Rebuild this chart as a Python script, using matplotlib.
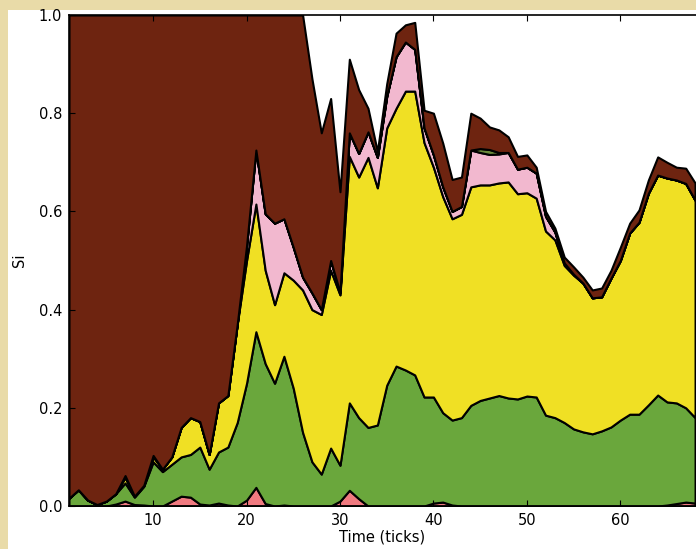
import matplotlib
matplotlib.use("Agg")
import matplotlib.pyplot as plt
from matplotlib.patches import Rectangle

# time ticks 1..68
ticks = list(range(1, 69))

# layer thickness per tick, bottom to top
salmon = [0, 0, 0, 0, 0, 0.004, 0.01, 0.003, 0.002, 0,
          0, 0.01, 0.02, 0.018, 0.004, 0.002, 0.006, 0.002, 0, 0.012,
          0.038, 0.005, 0, 0.002, 0, 0, 0, 0, 0, 0.01,
          0.032, 0.015, 0, 0, 0, 0, 0, 0, 0, 0.006,
          0.008, 0.002, 0, 0, 0, 0, 0, 0, 0, 0,
          0, 0, 0, 0, 0, 0, 0, 0, 0, 0,
          0, 0, 0, 0, 0.002, 0.005, 0.008, 0.006]
green = [0.016, 0.033, 0.012, 0.003, 0.01, 0.021, 0.037, 0.015, 0.038, 0.09,
         0.07, 0.075, 0.08, 0.087, 0.116, 0.073, 0.104, 0.118, 0.17, 0.238,
         0.317, 0.285, 0.25, 0.303, 0.24, 0.15, 0.09, 0.065, 0.118, 0.073,
         0.178, 0.165, 0.16, 0.165, 0.246, 0.285, 0.277, 0.267, 0.222, 0.216,
         0.182, 0.173, 0.18, 0.205, 0.215, 0.22, 0.225, 0.22, 0.218, 0.224,
         0.222, 0.185, 0.18, 0.17, 0.157, 0.151, 0.147, 0.153, 0.161, 0.175,
         0.187, 0.187, 0.206, 0.226, 0.21, 0.205, 0.192, 0.174]
yellow = [0, 0, 0, 0, 0, 0, 0.011, 0.002, 0.002, 0.01,
          0.005, 0.015, 0.06, 0.075, 0.052, 0.03, 0.10, 0.105, 0.20, 0.25,
          0.26, 0.19, 0.16, 0.17, 0.22, 0.29, 0.31, 0.325, 0.362, 0.347,
          0.502, 0.49, 0.55, 0.483, 0.524, 0.525, 0.568, 0.578, 0.518, 0.468,
          0.44, 0.41, 0.414, 0.445, 0.439, 0.434, 0.433, 0.44, 0.418, 0.414,
          0.405, 0.375, 0.362, 0.32, 0.313, 0.303, 0.277, 0.273, 0.303, 0.325,
          0.369, 0.391, 0.431, 0.448, 0.456, 0.454, 0.457, 0.443]
pink = [0, 0, 0, 0, 0, 0, 0.004, 0, 0, 0.003,
        0, 0, 0, 0, 0, 0, 0, 0, 0, 0.03,
        0.11, 0.115, 0.166, 0.11, 0.067, 0.026, 0.034, 0.01, 0.02, 0.005,
        0.048, 0.048, 0.052, 0.062, 0.064, 0.105, 0.10, 0.085, 0.03, 0.025,
        0.02, 0.015, 0.016, 0.075, 0.066, 0.062, 0.059, 0.06, 0.05, 0.052,
        0.051, 0.03, 0.016, 0.005, 0.002, 0, 0, 0, 0, 0,
        0, 0, 0, 0, 0, 0, 0, 0]
olive = [0] * 44 + [0.008, 0.01, 0.003] + [0] * 21
brown = [0.984, 0.967, 0.988, 0.997, 0.99, 0.975, 0.938, 0.98, 0.958, 0.897,
         0.925, 0.90, 0.84, 0.82, 0.828, 0.895, 0.79, 0.775, 0.63, 0.47,
         0.275, 0.405, 0.424, 0.415, 0.473, 0.534, 0.436, 0.36, 0.33, 0.205,
         0.15, 0.13, 0.048, 0.012, 0.026, 0.048, 0.035, 0.055, 0.036, 0.085,
         0.089, 0.065, 0.06, 0.075, 0.062, 0.046, 0.046, 0.032, 0.026, 0.025,
         0.012, 0.01, 0.008, 0.012, 0.015, 0.012, 0.016, 0.018, 0.016, 0.027,
         0.02, 0.025, 0.027, 0.037, 0.032, 0.026, 0.031, 0.035]

colors = ['#f07a80', '#6aa73c', '#f0e024', '#f2b8cf', '#6a8a3c', '#6e2410']

W, H = 696, 549
fig = plt.figure(figsize=(W / 100, H / 100), dpi=100)
fig.patch.set_facecolor('#e9dba8')
# white paper area of the photographed figure
fig.patches.append(Rectangle((8 / W, 0), 1, (H - 10) / H, transform=fig.transFigure,
                             facecolor='white', edgecolor='none', zorder=-1))

ax = fig.add_axes([69 / W, 43 / H, (W - 69) / W, 491 / H])
polys = ax.stackplot(ticks, salmon, green, yellow, pink, olive, brown,
                     colors=colors, edgecolor='black', linewidth=1.5)
for p in polys:
    p.set_joinstyle('round')

ax.set_xlim(1, 68.1)
ax.set_ylim(0, 1.0)
ax.set_xticks([10, 20, 30, 40, 50, 60])
ax.set_yticks([0.0, 0.2, 0.4, 0.6, 0.8, 1.0])
ax.set_yticklabels(['0.0', '0.2', '0.4', '0.6', '0.8', '1.0'])
ax.tick_params(direction='in', top=True, labelsize=10.5, length=4, pad=5)
ax.spines['right'].set_visible(False)
for s in ['left', 'top', 'bottom']:
    ax.spines[s].set_linewidth(1.2)
ax.set_xlabel('Time (ticks)', fontsize=10.5, labelpad=1)
ax.set_ylabel('Si', fontsize=10.5, labelpad=8)

fig.savefig('out.png', dpi=100)
